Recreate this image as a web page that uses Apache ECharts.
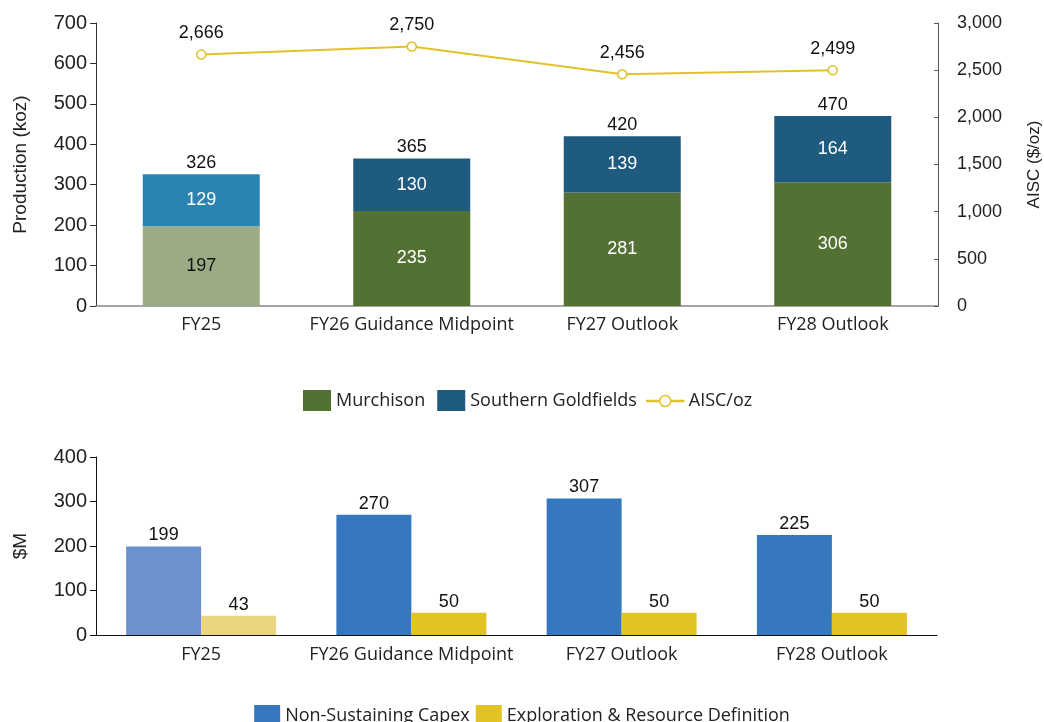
<!DOCTYPE html>
<html>
<head>
<meta charset="utf-8">
<script src="https://cdn.jsdelivr.net/npm/echarts@6/dist/echarts.min.js"></script>
<style>
  html, body { margin: 0; padding: 0; background: #fff; }
  #chart { width: 1044px; height: 722px; }
</style>
</head>
<body>
<div id="chart"></div>
<script>
// values
var categories = ['FY25', 'FY26 Guidance Midpoint', 'FY27 Outlook', 'FY28 Outlook'];
var murchison = [197, 235, 281, 306];
var southernGoldfields = [129, 130, 139, 164];
var productionTotals = [326, 365, 420, 470];
var aisc = [2666, 2750, 2456, 2499];
var nonSustainingCapex = [199, 270, 307, 225];
var exploration = [43, 50, 50, 50];

var numFont = 'Liberation Sans';
var txtFont = 'Open Sans';

// first category (actuals) drawn in lighter shades
function shaded(values, first, rest) {
  return values.map(function (v, i) {
    return { value: v, itemStyle: { color: i === 0 ? first : rest } };
  });
}

function fmt(v) {
  return Number(v).toLocaleString('en-US');
}

var myChart = echarts.init(document.getElementById('chart'));

var leftTickLabel = { color: '#222', fontSize: 20, fontFamily: numFont, margin: 9 };
var legendText = { fontSize: 18, fontFamily: txtFont, color: '#222' };
// line + hollow circle, like the office legend marker
var lineIcon = 'path://M0,9.5L12.5,9.5L12.5,10.5L0,10.5Z M24.5,9.5L37,9.5L37,10.5L24.5,10.5Z M18.5,4.5A5.5,5.5 0 1,1 18.49,4.5Z';

var option = {
  animation: false,
  backgroundColor: '#fff',
  grid: [
    { left: 96, right: 106, top: 23, height: 283, outerBoundsMode: 'none' },
    { left: 96, right: 107, top: 457, height: 178, outerBoundsMode: 'none' }
  ],
  legend: [
    {
      data: [
        { name: 'Murchison', icon: 'rect' },
        { name: 'Southern Goldfields', icon: 'rect' }
      ],
      top: 385,
      left: 298,
      itemWidth: 28,
      itemHeight: 21,
      itemGap: 12,
      textStyle: legendText
    },
    {
      data: [
        { name: 'AISC/oz', icon: lineIcon, itemStyle: { color: '#fff', borderColor: '#e2c12a', borderWidth: 1.5 } }
      ],
      top: 387,
      left: 641,
      itemWidth: 37,
      itemHeight: 21,
      textStyle: legendText
    },
    {
      data: [
        { name: 'Non-Sustaining Capex', icon: 'rect' },
        { name: 'Exploration & Resource Definition', icon: 'rect' }
      ],
      top: 700,
      left: 'center',
      itemWidth: 26,
      itemHeight: 21,
      itemGap: 6,
      textStyle: legendText
    }
  ],
  xAxis: [
    {
      type: 'category',
      gridIndex: 0,
      data: categories,
      axisTick: { show: false },
      axisLine: { lineStyle: { color: '#888', width: 1.5 } },
      axisLabel: { interval: 0, color: '#222', fontSize: 18, fontFamily: txtFont, margin: 10 }
    },
    {
      type: 'category',
      gridIndex: 1,
      data: categories,
      axisTick: { show: false },
      axisLine: { lineStyle: { color: '#111', width: 1.2 } },
      axisLabel: { interval: 0, color: '#222', fontSize: 18, fontFamily: txtFont, margin: 11 }
    }
  ],
  yAxis: [
    {
      type: 'value',
      gridIndex: 0,
      min: 0, max: 700, interval: 100,
      name: 'Production (koz)',
      nameLocation: 'middle',
      nameGap: 66,
      nameTextStyle: { fontSize: 19, fontFamily: numFont, color: '#222' },
      axisLine: { show: true, lineStyle: { color: '#333' } },
      axisTick: { show: true, length: 6, lineStyle: { color: '#333' } },
      splitLine: { show: false },
      axisLabel: leftTickLabel
    },
    {
      type: 'value',
      gridIndex: 0,
      position: 'right',
      min: 0, max: 3000, interval: 500,
      name: 'AISC ($/oz)',
      nameLocation: 'middle',
      nameGap: 88,
      nameTextStyle: { fontSize: 17, fontFamily: numFont, color: '#222' },
      axisLine: { show: true, lineStyle: { color: '#555' } },
      axisTick: { show: true, inside: true, length: 4, lineStyle: { color: '#555' } },
      splitLine: { show: false },
      axisLabel: { color: '#222', fontSize: 18, fontFamily: numFont, margin: 19, formatter: fmt }
    },
    {
      type: 'value',
      gridIndex: 1,
      min: 0, max: 400, interval: 100,
      name: '$M',
      nameLocation: 'middle',
      nameGap: 66,
      nameTextStyle: { fontSize: 19, fontFamily: numFont, color: '#222' },
      axisLine: { show: true, lineStyle: { color: '#111' } },
      axisTick: { show: true, length: 6, lineStyle: { color: '#111' } },
      splitLine: { show: false },
      axisLabel: leftTickLabel
    }
  ],
  series: [
    {
      name: 'Murchison',
      type: 'bar',
      stack: 'prod',
      xAxisIndex: 0, yAxisIndex: 0,
      barWidth: 117,
      color: '#537132',
      data: shaded(murchison, '#9aab85', '#537132'),
      label: { show: true, position: 'inside', fontSize: 18, fontFamily: numFont, color: '#fff' }
    },
    {
      name: 'Southern Goldfields',
      type: 'bar',
      stack: 'prod',
      xAxisIndex: 0, yAxisIndex: 0,
      barWidth: 117,
      color: '#1f5b7e',
      data: shaded(southernGoldfields, '#2a83b0', '#1f5b7e'),
      label: { show: true, position: 'inside', fontSize: 18, fontFamily: numFont, color: '#fff' }
    },
    {
      name: 'total',
      type: 'bar',
      stack: 'prod',
      xAxisIndex: 0, yAxisIndex: 0,
      barWidth: 117,
      data: productionTotals.map(function () { return 0; }),
      itemStyle: { color: 'transparent' },
      label: {
        show: true, position: 'top', distance: 2, fontSize: 18, fontFamily: numFont, color: '#111',
        formatter: function (p) { return productionTotals[p.dataIndex]; }
      }
    },
    {
      name: 'AISC/oz',
      type: 'line',
      xAxisIndex: 0, yAxisIndex: 1,
      data: aisc,
      color: '#e2c12a',
      symbol: 'circle',
      symbolSize: 9,
      lineStyle: { color: '#e2c12a', width: 2 },
      itemStyle: { color: '#fff', borderColor: '#e2c12a', borderWidth: 1.5 },
      label: {
        show: true, position: 'top', distance: 7, fontSize: 18, fontFamily: numFont, color: '#111',
        formatter: function (p) { return fmt(p.value); }
      },
      z: 5
    },
    {
      name: 'Non-Sustaining Capex',
      type: 'bar',
      xAxisIndex: 1, yAxisIndex: 2,
      barWidth: 75,
      barGap: '0%',
      color: '#3578be',
      data: shaded(nonSustainingCapex, '#6b92cd', '#3578be'),
      label: { show: true, position: 'top', distance: 2, fontSize: 18, fontFamily: numFont, color: '#111' }
    },
    {
      name: 'Exploration & Resource Definition',
      type: 'bar',
      xAxisIndex: 1, yAxisIndex: 2,
      barWidth: 75,
      barGap: '0%',
      color: '#e2c325',
      data: shaded(exploration, '#ebd67f', '#e2c325'),
      label: { show: true, position: 'top', distance: 2, fontSize: 18, fontFamily: numFont, color: '#111' }
    }
  ]
};

// FY25 Murchison label sits on a light bar, so it is dark
option.series[0].data[0].label = { color: '#111' };

myChart.setOption(option);
window.onresize = function () { myChart.resize(); };
</script>
</body>
</html>
